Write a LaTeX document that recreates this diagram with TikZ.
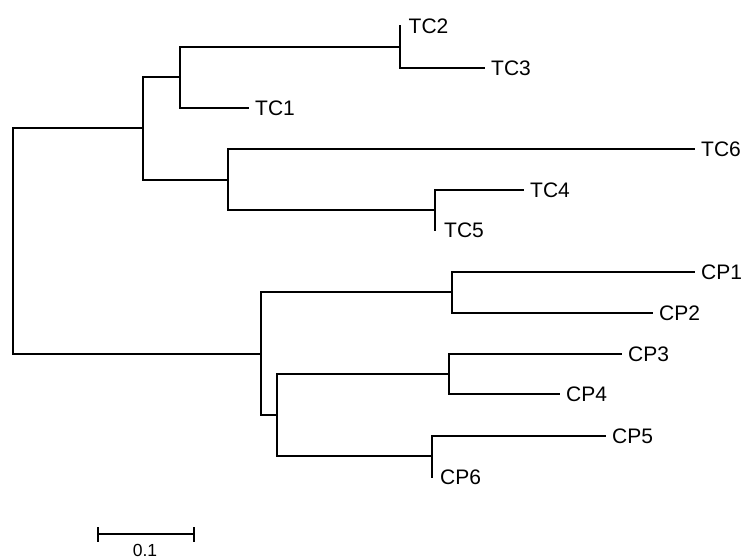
\documentclass[tikz,border=0pt]{standalone}
\usepackage{fontspec}
\setmainfont{Liberation Sans}
\begin{document}
\begin{tikzpicture}[x=1pt,y=-1pt,
  branch/.style={line width=1.2pt,line cap=rect},
  leaf/.style={anchor=west,inner sep=0pt,font=\fontsize{21}{25}\selectfont},
  scalelab/.style={inner sep=0pt,font=\fontsize{17.5}{21}\selectfont}]
\useasboundingbox (0,0) rectangle (742,559);
% internal nodes
\coordinate (R) at (13,241);
\coordinate (A) at (143,128);
\coordinate (B) at (180,77);
\coordinate (C) at (400,47);
\coordinate (D) at (228,180);
\coordinate (E) at (435,210);
\coordinate (F) at (261,354);
\coordinate (G) at (452,292);
\coordinate (H) at (277,415);
\coordinate (I) at (449,374);
\coordinate (J) at (432,456);
% leaves
\coordinate (tc2) at (400,26);
\coordinate (tc3) at (484,68);
\coordinate (tc1) at (248,108);
\coordinate (tc6) at (694,149);
\coordinate (tc4) at (523,190);
\coordinate (tc5) at (435,230);
\coordinate (cp1) at (694,272);
\coordinate (cp2) at (652,313);
\coordinate (cp3) at (621,354);
\coordinate (cp4) at (559,394);
\coordinate (cp5) at (605,436);
\coordinate (cp6) at (432,477);
% branches
\draw[branch] (R) |- (A);
\draw[branch] (R) |- (F);
\draw[branch] (A) |- (B);
\draw[branch] (A) |- (D);
\draw[branch] (B) |- (C);
\draw[branch] (B) |- (tc1);
\draw[branch] (C) -- (tc2);
\draw[branch] (C) |- (tc3);
\draw[branch] (D) |- (tc6);
\draw[branch] (D) |- (E);
\draw[branch] (E) |- (tc4);
\draw[branch] (E) -- (tc5);
\draw[branch] (F) |- (G);
\draw[branch] (F) |- (H);
\draw[branch] (G) |- (cp1);
\draw[branch] (G) |- (cp2);
\draw[branch] (H) |- (I);
\draw[branch] (H) |- (J);
\draw[branch] (I) |- (cp3);
\draw[branch] (I) |- (cp4);
\draw[branch] (J) |- (cp5);
\draw[branch] (J) -- (cp6);
% labels
\node[leaf] (lTC2) at ([xshift=8.5pt]tc2) {TC2};
\node[leaf] (lTC3) at ([xshift=7pt]tc3) {TC3};
\node[leaf] (lTC1) at ([xshift=7pt]tc1) {TC1};
\node[leaf] (lTC6) at ([xshift=7pt]tc6) {TC6};
\node[leaf] (lTC4) at ([xshift=7pt]tc4) {TC4};
\node[leaf] (lTC5) at ([xshift=9pt]tc5) {TC5};
\node[leaf] (lCP1) at ([xshift=7pt]cp1) {CP1};
\node[leaf] (lCP2) at ([xshift=7pt]cp2) {CP2};
\node[leaf] (lCP3) at ([xshift=7pt]cp3) {CP3};
\node[leaf] (lCP4) at ([xshift=7pt]cp4) {CP4};
\node[leaf] (lCP5) at ([xshift=7pt]cp5) {CP5};
\node[leaf] (lCP6) at ([xshift=8pt]cp6) {CP6};
% scale bar
\coordinate (s1) at (98,534);
\coordinate (s2) at (194,534);
\draw[branch,line cap=butt] (s1) -- (s2);
\draw[branch,line cap=butt] ([yshift=-7.5pt]s1) -- ([yshift=7.5pt]s1);
\draw[branch,line cap=butt] ([yshift=-7.5pt]s2) -- ([yshift=7.5pt]s2);
\node[scalelab] (slab) at (145,550) {0.1};
\end{tikzpicture}
\end{document}
